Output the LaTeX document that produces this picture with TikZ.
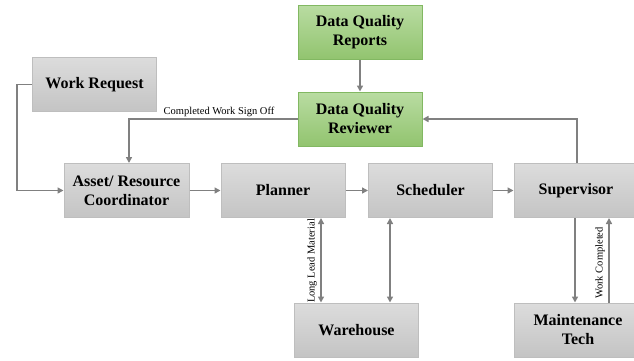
\documentclass[tikz,border=0pt]{standalone}
\usepackage{fontspec}
\setmainfont{Liberation Serif}
\usetikzlibrary{arrows.meta,calc}
\definecolor{boxtop}{HTML}{DCDCDC}
\definecolor{boxbot}{HTML}{C4C4C4}
\definecolor{boxline}{HTML}{BEBEBE}
\definecolor{greentop}{HTML}{B9DCA2}
\definecolor{greenbot}{HTML}{92C46F}
\definecolor{greenline}{HTML}{82B862}
\definecolor{flow}{HTML}{808080}
\tikzset{
  box/.style={draw=boxline, line width=1pt, top color=boxtop, bottom color=boxbot,
    minimum width=124pt, minimum height=54pt, inner sep=2pt, align=center,
    font=\fontsize{16}{19}\selectfont\bfseries},
  greenbox/.style={box, draw=greenline, top color=greentop, bottom color=greenbot},
  flowline/.style={draw=flow, line width=1.8pt, -{Triangle[length=6pt,width=6pt]}},
  twoway/.style={flowline, {Triangle[length=6pt,width=6pt]}-{Triangle[length=6pt,width=6pt]}},
  tag/.style={font=\fontsize{10.5}{12}\selectfont, inner sep=1pt}
}
\begin{document}
\begin{tikzpicture}[x=1pt,y=-1pt]
\useasboundingbox (0,0) rectangle (634,360);
% boxes
\node[box] (wr) at (94.5,84.5) {Work Request};
\node[greenbox] (dqrep) at (360,32) {Data Quality\\Reports};
\node[greenbox] (dqrev) at (360,119) {Data Quality\\Reviewer};
\node[box, minimum width=125pt] (asset) at (126.5,190.5) {Asset/ Resource\\Coordinator};
\node[box] (plan) at (283,190.5) {Planner};
\node[box] (sched) at (430.5,190.5) {Scheduler};
\node[box, minimum width=134pt, text width=120pt] (sup) at (581,190.5) {\hspace*{-10pt}Supervisor};
\node[box, minimum width=128pt] (tech) at (578,330) {Maintenance\\Tech};
\node[box] (wh) at (356.5,330) {Warehouse};
% connectors
\coordinate (wrturn) at (17,84.5);
\draw[flowline] (wr.west) -- (wrturn) |- (asset.west);
\draw[flowline] (asset) -- (plan);
\draw[flowline] (plan) -- (sched);
\draw[flowline] (sched) -- (sup);
\draw[flowline] (dqrep) -- (dqrev);
\coordinate (signoff) at (129,119);
\draw[flowline] (dqrev.west) -- (signoff) -- (signoff |- asset.north);
\node[tag, anchor=south] (signtxt) at (219,118) {Completed Work Sign Off};
\coordinate (supup) at ([xshift=-4pt]sup.north);
\draw[flowline] (supup) |- (dqrev.east);
\draw[twoway] ([xshift=38pt]plan.south) -- ([xshift=38pt]plan.south |- wh.north);
\draw[twoway] ([xshift=-40.5pt]sched.south) -- ([xshift=-40.5pt]sched.south |- wh.north);
\draw[flowline] ([xshift=-6pt]sup.south) -- ([xshift=-6pt]sup.south |- tech.north);
\draw[flowline] ([xshift=31pt]tech.north) -- ([xshift=31pt]tech.north |- sup.south);
\node[tag, rotate=90] (lead) at (312,261) {Long Lead Material};
\node[tag, rotate=90] (done) at (600,263) {Work Completed};
\end{tikzpicture}
\end{document}
